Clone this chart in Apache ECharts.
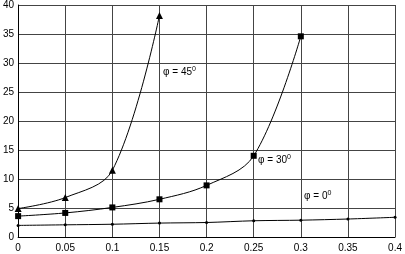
<!DOCTYPE html>
<html>
<head>
<meta charset="utf-8">
<script src="https://cdn.jsdelivr.net/npm/echarts@6/dist/echarts.min.js"></script>
<style>
html, body { margin: 0; padding: 0; background: #fff; }
#chart { width: 405px; height: 254px; }
</style>
</head>
<body>
<div id="chart"></div>
<script>
// values
const x45 = [0, 0.05, 0.1, 0.15];
const y45 = [4.9, 6.8, 11.5, 38.2];
const x30 = [0, 0.05, 0.1, 0.15, 0.2, 0.25, 0.3];
const y30 = [3.6, 4.15, 5.1, 6.5, 8.9, 14.0, 34.6];
const x0 = [0, 0.05, 0.1, 0.15, 0.2, 0.25, 0.3, 0.35, 0.4];
const y0 = [2.0, 2.1, 2.2, 2.4, 2.5, 2.8, 2.9, 3.1, 3.4];

const pairs = (xs, ys) => xs.map((x, i) => [x, ys[i]]);
const font = 'Liberation Sans, Arial, sans-serif';

const chart = echarts.init(document.getElementById('chart'));
chart.setOption({
    animation: false,
    grid: { left: 17, right: 5, top: 3, bottom: 17 },
    xAxis: {
        type: 'value',
        min: 0,
        max: 0.4,
        interval: 0.05,
        axisLine: { show: true, lineStyle: { color: '#000' } },
        axisTick: { show: false },
        splitLine: { show: true, lineStyle: { color: '#444', width: 1 } },
        axisLabel: {
            color: '#000', fontFamily: font, fontSize: 10, margin: 6,
            formatter: v => String(+v.toFixed(2))
        }
    },
    yAxis: {
        type: 'value',
        min: 0,
        max: 40,
        interval: 5,
        axisLine: { show: true, lineStyle: { color: '#000' } },
        axisTick: { show: false },
        splitLine: { show: true, lineStyle: { color: '#444', width: 1 } },
        axisLabel: { color: '#000', fontFamily: font, fontSize: 10, margin: 4 }
    },
    series: [{
        type: 'line',
        data: pairs(x45, y45),
        smooth: 0.35,
        symbol: 'triangle',
        symbolSize: 7,
        lineStyle: { color: '#000', width: 1 },
        itemStyle: { color: '#000' }
    }, {
        type: 'line',
        data: pairs(x30, y30),
        smooth: 0.35,
        symbol: 'rect',
        symbolSize: 6,
        lineStyle: { color: '#000', width: 1 },
        itemStyle: { color: '#000' }
    }, {
        type: 'line',
        data: pairs(x0, y0),
        smooth: 0.3,
        symbol: 'circle',
        symbolSize: 3,
        lineStyle: { color: '#000', width: 1 },
        itemStyle: { color: '#000' }
    }],
    graphic: [{
        type: 'text', left: 163, top: 66,
        style: { text: 'φ = 45{s|0}', font: '10px ' + font, fill: '#000',
            rich: { s: { fontSize: 7, verticalAlign: 'top', padding: [0, 0, 6, 0] } } }
    }, {
        type: 'text', left: 258, top: 154,
        style: { text: 'φ = 30{s|0}', font: '10px ' + font, fill: '#000',
            rich: { s: { fontSize: 7, verticalAlign: 'top', padding: [0, 0, 6, 0] } } }
    }, {
        type: 'text', left: 304, top: 190,
        style: { text: 'φ = 0{s|0}', font: '10px ' + font, fill: '#000',
            rich: { s: { fontSize: 7, verticalAlign: 'top', padding: [0, 0, 6, 0] } } }
    }]
});
</script>
</body>
</html>
